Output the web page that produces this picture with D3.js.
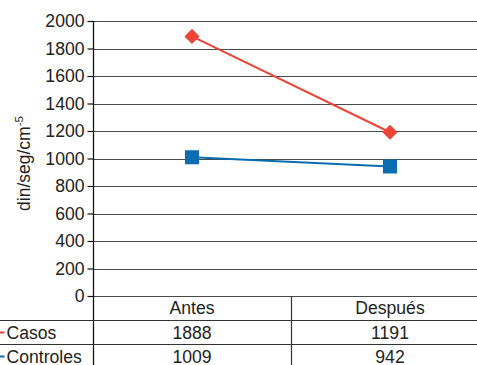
<!DOCTYPE html>
<html>
<head>
<meta charset="utf-8">
<script src="https://cdn.jsdelivr.net/npm/d3@7/dist/d3.min.js"></script>
<style>
  html, body { margin: 0; padding: 0; background: #fff; }
  svg { display: block; font-family: "Liberation Sans", Arial, sans-serif; }
</style>
</head>
<body>
<svg id="chart" width="477" height="365"></svg>
<script>
// Resistencia vascular antes y después, casos frente a controles
const categories = ["Antes", "Después"];
const seriesNames = ["Casos", "Controles"];
const casos = [1888, 1191];
const controles = [1009, 942];
const yTicks = [0, 200, 400, 600, 800, 1000, 1200, 1400, 1600, 1800, 2000];
const colors = ["#ee4337", "#0b6cb0"];

const svg = d3.select("#chart");
const plotLeft = 93, plotRight = 489, plotTop = 21, plotBottom = 296;
const fs = 17.6;

const x = d3.scaleBand().domain(categories).range([plotLeft, plotRight]).padding(0);
const y = d3.scaleLinear().domain([0, 2000]).range([plotBottom, plotTop]);
const cx = c => x(c) + x.bandwidth() / 2;

// horizontal grid
svg.append("g")
  .selectAll("line")
  .data(yTicks)
  .join("line")
  .attr("x1", plotLeft).attr("x2", 477)
  .attr("y1", d => Math.round(y(d)) + 0.5).attr("y2", d => Math.round(y(d)) + 0.5)
  .attr("stroke", "#4a4a4a").attr("stroke-width", 1.2);

// left axis with ticks
const yAxis = d3.axisLeft(y).tickValues(yTicks).tickSize(6).tickPadding(3).tickFormat(d3.format("d"));
const ag = svg.append("g").attr("transform", `translate(${plotLeft + 0.5},0)`).call(yAxis);
ag.select(".domain").remove();
ag.selectAll(".tick line").attr("stroke", "#111").attr("stroke-width", 1.2);
ag.selectAll(".tick text")
  .attr("font-size", fs).attr("fill", "#222")
  .attr("font-family", "Liberation Sans, Arial, sans-serif");

// vertical axis line running into the data table
svg.append("line")
  .attr("x1", plotLeft + 0.5).attr("x2", plotLeft + 0.5)
  .attr("y1", plotTop).attr("y2", 365)
  .attr("stroke", "#111").attr("stroke-width", 1.3);

// axis title
svg.append("text")
  .attr("transform", `translate(30,${(plotTop + plotBottom) / 2 + 5}) rotate(-90)`)
  .attr("text-anchor", "middle")
  .attr("font-size", 17.5).attr("fill", "#222")
  .text("din/seg/cm")
  .append("tspan").attr("dy", -7).attr("font-size", 11.5).text("-5");

// data table
const rowH = 24;
const tableTop = plotBottom;
// row separators
[tableTop + rowH, tableTop + rowH * 2].forEach(yy => {
  svg.append("line")
    .attr("x1", 0).attr("x2", 477)
    .attr("y1", yy + 0.5).attr("y2", yy + 0.5)
    .attr("stroke", "#333").attr("stroke-width", 1.2);
});
// column separator between categories
svg.append("line")
  .attr("x1", x(categories[1]) + 0.5).attr("x2", x(categories[1]) + 0.5)
  .attr("y1", tableTop).attr("y2", 365)
  .attr("stroke", "#333").attr("stroke-width", 1.2);

// header row
svg.append("g").selectAll("text")
  .data(categories)
  .join("text")
  .attr("x", d => cx(d)).attr("y", tableTop + 18)
  .attr("text-anchor", "middle").attr("font-size", fs).attr("fill", "#222")
  .text(d => d);

const rows = [casos, controles];
rows.forEach((vals, i) => {
  const base = tableTop + rowH * (i + 1) + 18.5;
  svg.append("line")
    .attr("x1", 0).attr("x2", 4.5)
    .attr("y1", base - 6).attr("y2", base - 6)
    .attr("stroke", colors[i]).attr("stroke-width", 2);
  svg.append("text")
    .attr("x", 6.5).attr("y", base)
    .attr("font-size", fs).attr("fill", "#222")
    .text(seriesNames[i]);
  svg.append("g").selectAll("text")
    .data(vals)
    .join("text")
    .attr("x", (d, j) => cx(categories[j])).attr("y", base)
    .attr("text-anchor", "middle").attr("font-size", fs).attr("fill", "#222")
    .text(d => d);
});

// lines
const line = d3.line().x((d, j) => cx(categories[j])).y(d => y(d));
svg.append("path").datum(casos).attr("d", line)
  .attr("fill", "none").attr("stroke", colors[0]).attr("stroke-width", 2);
svg.append("path").datum(controles).attr("d", line)
  .attr("fill", "none").attr("stroke", colors[1]).attr("stroke-width", 2);

// markers: diamonds for casos, squares for controles
svg.append("g").selectAll("path")
  .data(casos)
  .join("path")
  .attr("transform", (d, j) => `translate(${cx(categories[j])},${y(d)})`)
  .attr("d", d3.symbol(d3.symbolDiamond2, 145)())
  .attr("fill", colors[0]);
svg.append("g").selectAll("rect")
  .data(controles)
  .join("rect")
  .attr("x", (d, j) => cx(categories[j]) - 7).attr("y", d => y(d) - 7)
  .attr("width", 14).attr("height", 14)
  .attr("fill", colors[1]);
</script>
</body>
</html>
